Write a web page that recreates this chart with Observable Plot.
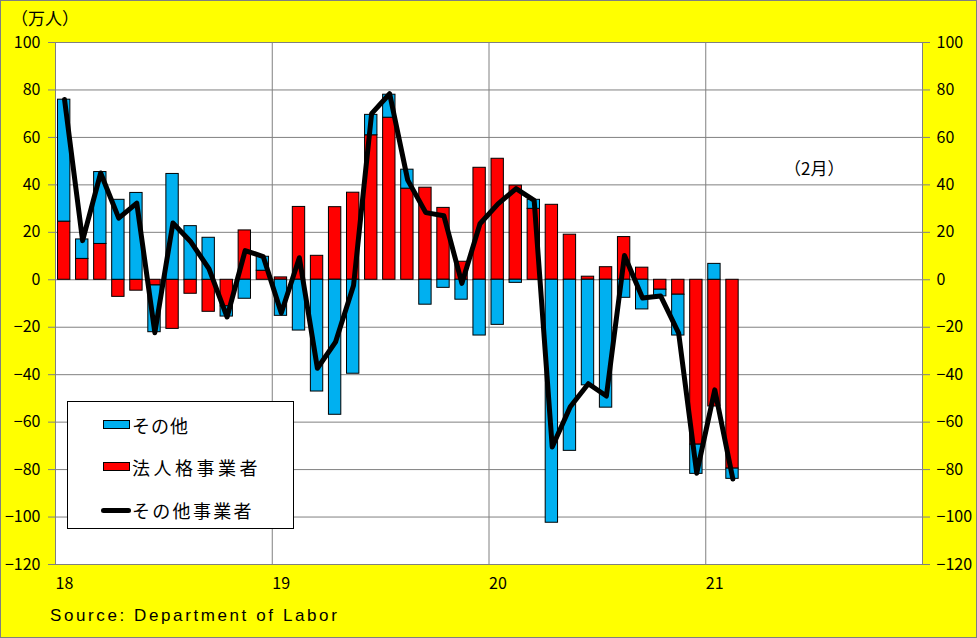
<!DOCTYPE html>
<html>
<head>
<meta charset="utf-8">
<script src="https://cdn.jsdelivr.net/npm/d3@7"></script>
<script src="https://cdn.jsdelivr.net/npm/@observablehq/plot@0.6"></script>
<style>
  body { margin: 0; background: #ffff00; }
  #wrap { position: relative; width: 977px; height: 638px; background: #ffff00; overflow: hidden;
          font-family: "Noto Sans CJK JP", "DejaVu Sans", sans-serif; color: #000; }
  #wrap svg { position: absolute; left: 0; top: 0; }
  #border { position: absolute; left: 0; top: 0; width: 977px; height: 638px; box-sizing: border-box;
            border: 1px solid #808080; pointer-events: none; }
  .abs { position: absolute; white-space: nowrap; }
  #legend { position: absolute; left: 67px; top: 401px; width: 227px; height: 128px; box-sizing: border-box;
            border: 1px solid #000; background: #fff; }
  .sw { position: absolute; box-sizing: border-box; border: 1px solid #000; }
  .lt { position: absolute; font-size: 18px; line-height: 20px; white-space: nowrap; }
</style>
</head>
<body>
<div id="wrap"></div>
<script>
// ---- data (万人) ----
const months = [
  "2018-01","2018-02","2018-03","2018-04","2018-05","2018-06","2018-07","2018-08","2018-09","2018-10","2018-11","2018-12",
  "2019-01","2019-02","2019-03","2019-04","2019-05","2019-06","2019-07","2019-08","2019-09","2019-10","2019-11","2019-12",
  "2020-01","2020-02","2020-03","2020-04","2020-05","2020-06","2020-07","2020-08","2020-09","2020-10","2020-11","2020-12",
  "2021-01","2021-02"
];
// 法人格事業者 (red)
const corp = [
  24.5, 8.8, 15.1, -7.2, -4.6, -2.4, -20.7, -5.9, -13.5, -11.2, 20.8, 3.8,
  1.0, 30.7, 10.1, 30.6, 36.7, 60.9, 68.3, 38.4, 38.8, 30.3, 7.6, 47.2,
  51.0, 39.7, 29.9, 31.6, 19.0, 1.3, 5.3, 18.0, 5.1, -4.2, -6.3, -69.5,
  -53.4, -79.6
];
// その他 (blue)
const other = [
  51.4, 8.2, 30.3, 33.7, 36.6, -19.7, 44.6, 22.6, 17.7, -4.3, -8.0, 5.9,
  -15.2, -21.4, -47.1, -56.9, -39.6, 8.6, 9.7, 8.0, -10.5, -3.4, -8.4, -23.5,
  -19.0, -1.3, 3.8, -102.4, -72.1, -44.5, -53.9, -7.6, -12.5, -2.8, -17.2, -12.3,
  6.7, -4.3
];
// その他事業者 (black line)
const total = [
  76, 16.5, 45, 26, 32.3, -22.3, 23.9, 15.9, 4.6, -15.7, 12.3, 9.8,
  -14, 9.3, -37.3, -26.3, -2.4, 70, 78.4, 42, 28.3, 27, -1.5, 23.6,
  32, 38.4, 33.5, -70.5, -53.5, -43.8, -49, 10.2, -7.7, -6.8, -22.5, -81.5,
  -46.4, -84
];
const yearTicks = [0, 12, 24, 36];
const yearLabels = ["18", "19", "20", "21"];
const yTicks = [-120, -100, -80, -60, -40, -20, 0, 20, 40, 60, 80, 100];
const xDomain = [0, 48];

const C_RED = "#ff0000", C_BLUE = "#00b0f0";

// stacked rectangles
const rects = [];
months.forEach((m, i) => {
  const r = corp[i], b = other[i];
  rects.push({i, series: "法人格事業者", y1: 0, y2: r, fill: C_RED});
  const base = (Math.sign(b) === Math.sign(r)) ? r : 0;
  rects.push({i, series: "その他", y1: base, y2: base + b, fill: C_BLUE});
});
const lineRows = months.map((m, i) => ({i, v: total[i]}));

const fmt = d => d < 0 ? "\u2212" + Math.abs(d) : String(d);
const hasAxisMarks = typeof Plot.axisY === "function";

const axisMarks = hasAxisMarks ? [
  Plot.axisY(yTicks, {anchor: "left", tickSize: 7, tickPadding: 8, tickFormat: fmt, stroke: "#808080", fill: "black", label: null, fontSize: 16}),
  Plot.axisY(yTicks, {anchor: "right", tickSize: 7, tickPadding: 7, tickFormat: fmt, stroke: "#808080", fill: "black", label: null, fontSize: 16})
] : [];

const chart = Plot.plot({
  width: 977,
  height: 638,
  marginLeft: 55,
  marginRight: 55,
  marginTop: 42,
  marginBottom: 74,
  style: {background: "transparent", fontSize: "16px", fontFamily: "'Noto Sans CJK JP', 'DejaVu Sans', sans-serif", color: "black", overflow: "visible"},
  x: {type: "linear", domain: xDomain, axis: null},
  y: hasAxisMarks
    ? {domain: [-120, 100], axis: null}
    : {domain: [-120, 100], axis: "both", ticks: yTicks, tickSize: 7, tickPadding: 8, tickFormat: fmt, label: null},
  marks: [
    Plot.frame({fill: "white", stroke: null}),
    Plot.ruleY(yTicks, {stroke: "#808080", strokeWidth: 1}),
    Plot.ruleX(yearTicks, {stroke: "#808080", strokeWidth: 1}),
    Plot.rect(rects, {x1: d => d.i, x2: d => d.i + 1, y1: "y1", y2: "y2", fill: "fill",
                      stroke: "black", strokeWidth: 1, insetLeft: 2.5, insetRight: 3.2}),
    Plot.line(lineRows, {x: d => d.i + 0.5, y: "v", stroke: "black", strokeWidth: 5,
                         strokeLinejoin: "round", strokeLinecap: "round"}),
    Plot.frame({stroke: "#808080", strokeWidth: 1}),
    Plot.text(yearTicks, {x: d => d, text: (d, k) => yearLabels[k], frameAnchor: "bottom",
                          dy: 24, textAnchor: "start", fill: "black", fontSize: 16}),
    ...axisMarks
  ]
});

const wrap = document.getElementById("wrap");
wrap.appendChild(chart);

// Fix axis tick colours if the scale-based axes were used
const st = document.createElement("style");
st.textContent = `#wrap g[aria-label^="y-axis"] line { stroke: #808080; } #wrap g[aria-label^="y-axis"] path.domain { display: none; }`;
document.head.appendChild(st);

function addDiv(cls, css, text) {
  const d = document.createElement("div");
  d.className = cls;
  Object.assign(d.style, css);
  if (text != null) d.textContent = text;
  return d;
}

// unit label and annotation
wrap.appendChild(addDiv("abs", {left: "11px", top: "7px", fontSize: "17px", lineHeight: "22px"}, "（万人）"));
wrap.appendChild(addDiv("abs", {left: "784px", top: "157px", fontSize: "17px", lineHeight: "22px"}, "（2月）"));
// source
wrap.appendChild(addDiv("abs", {left: "50px", top: "605px", fontSize: "17px", lineHeight: "22px", letterSpacing: "2.6px",
  fontFamily: "'Liberation Sans', 'DejaVu Sans', sans-serif"}, "Source: Department of Labor"));

// legend
const lg = addDiv("", {}, null);
lg.id = "legend";
wrap.appendChild(lg);
const L = 67, T = 401;
const items = [
  {type: "bar", color: C_BLUE, label: "その他", cy: 424, ls: "1px"},
  {type: "bar", color: C_RED, label: "法人格事業者", cy: 466, ls: "3.5px"},
  {type: "line", color: "#000", label: "その他事業者", cy: 509, ls: "2.3px"}
];
items.forEach(it => {
  if (it.type === "bar") {
    lg.appendChild(addDiv("sw", {left: (102 - L) + "px", top: (it.cy - 5 - T) + "px", width: "27px", height: "9px", background: it.color}));
  } else {
    lg.appendChild(addDiv("", {position: "absolute", left: (100 - L) + "px", top: (it.cy - 2.5 - T) + "px", width: "30px", height: "5px",
      background: it.color, borderRadius: "2.5px"}));
  }
  lg.appendChild(addDiv("lt", {left: (131 - L) + "px", top: (it.cy - 10 - T) + "px", letterSpacing: it.ls}, it.label));
});

wrap.appendChild(addDiv("", {}, null)).id = "border";
</script>
</body>
</html>
